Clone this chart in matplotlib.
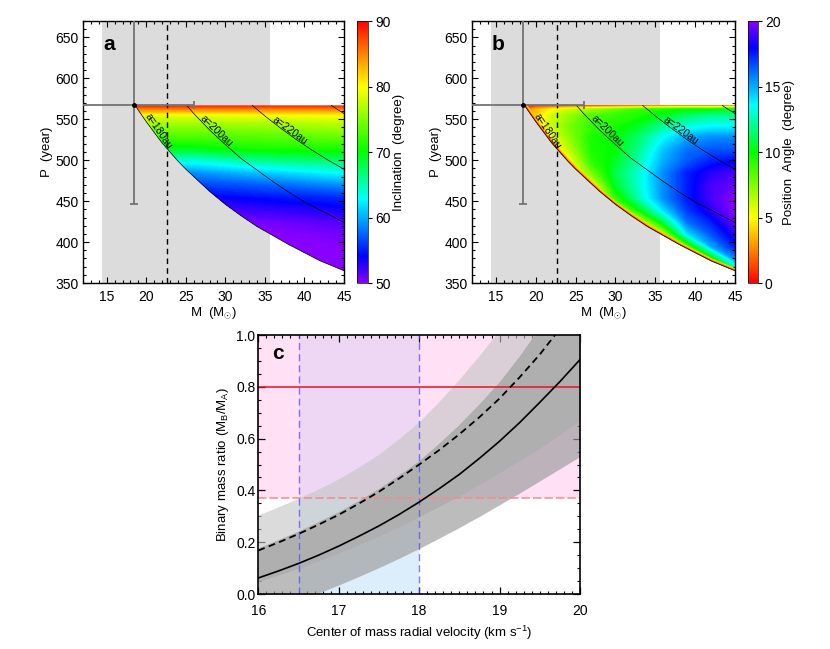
import numpy as np
import matplotlib
matplotlib.use("Agg")
import matplotlib.pyplot as plt
from matplotlib.colors import LinearSegmentedColormap, Normalize
from matplotlib.patches import Polygon
from matplotlib.ticker import MultipleLocator, FormatStrFormatter

plt.rcParams['font.family'] = ['Liberation Sans', 'DejaVu Sans']
plt.rcParams['mathtext.fontset'] = 'custom'
plt.rcParams['mathtext.rm'] = 'Liberation Sans'
plt.rcParams['mathtext.it'] = 'Liberation Sans:italic'

# ---------------- panels a / b : orbital solutions ----------------
p_top = 567  # upper edge of the allowed region (year)

# lower edge of the allowed region (a = 180 au curve)
edge_m = [18.6, 19, 20, 21, 22, 23, 24, 25, 26, 27, 28, 30, 32, 34, 36, 38, 40, 42, 45]
edge_p = [567, 561, 547, 534, 521, 510, 499, 489, 480, 471, 462, 446, 432, 419, 408, 397, 387, 377, 365]

# other semi-major axis curves
a200_m = [25.1, 26, 28, 30, 32, 34, 36, 38, 40, 42, 45]
a200_p = [567, 557, 537, 519, 502, 488, 474, 461, 449, 439, 424]
a220_m = [33.4, 35, 37, 39, 41, 43, 45]
a220_p = [567, 554, 539, 525, 512, 500, 489]
a240_m = [43.4, 44, 45]
a240_p = [567, 563, 557]

curve_labels = ['a=180au', 'a=200au', 'a=220au']
curve_label_m = [21.5, 28.9, 38.2]
curve_label_p = [536, 536, 536]
curve_label_rot = [-56, -44, -36]

# measured point with error bars
obs_m, obs_m_lo, obs_m_hi = 18.4, 7.4, 7.6
obs_p, obs_p_err = 567, 121
m_band = (14.4, 35.6)
m_dash = 22.6

# inclination map (degree): rows = P, columns = M
inc_m = [18, 26, 35, 45]
inc_p = [355, 380, 395, 410, 425, 440, 455, 470, 485, 500, 515, 530, 545, 555, 561, 568]
inc_val = [
    [50.0, 50.0, 50.0, 50.0],
    [50.0, 50.0, 50.0, 50.0],
    [50.0, 50.0, 50.0, 50.2],
    [50.0, 50.0, 50.0, 50.7],
    [50.7, 50.7, 50.7, 51.7],
    [51.7, 51.7, 52.5, 53.5],
    [53.5, 53.5, 54.5, 55.5],
    [56.2, 56.2, 57.2, 59.0],
    [59.0, 59.0, 61.0, 63.0],
    [63.7, 63.7, 66.0, 67.0],
    [69.5, 69.5, 71.0, 71.0],
    [73.2, 73.2, 73.5, 74.2],
    [76.2, 76.2, 76.5, 77.2],
    [79.0, 79.0, 79.5, 80.0],
    [84.0, 84.0, 84.0, 84.0],
    [90.0, 90.0, 90.0, 90.0],
]

# position angle map (degree): rows = P (top to bottom), columns = M
pa_m = [18.2, 20, 22, 24, 27, 30, 33, 36, 39, 42, 45]
pa_p_desc = [568, 562, 554, 542, 528, 513, 498, 484, 469, 454, 439, 425, 410, 395, 380, 355]
pa_val_desc = [
    [0, 0, 0, 0, 0, 0, 0, 0, 0, 0, 0],
    [1.5, 3.5, 5, 6, 7, 8, 9, 9.5, 10, 10, 10.5],
    [3, 4, 6, 7, 8.5, 9, 9.5, 10.5, 11.5, 12, 12],
    [4, 4, 6, 7.5, 9, 9.5, 10.5, 12, 13, 13.5, 13.5],
    [4, 4, 5, 7, 9.5, 10, 11.5, 13.5, 15, 15.5, 15.5],
    [4, 4, 4, 6, 9.5, 10, 12, 14.5, 16, 16.5, 16.5],
    [4, 4, 4, 4.5, 9, 10.5, 12.5, 15, 16.5, 17.5, 18],
    [4, 4, 4, 4, 7.5, 11, 13, 15.5, 17.5, 18.5, 19],
    [4, 4, 4, 4, 4.5, 10.5, 13, 15.5, 17.5, 19, 19.5],
    [4, 4, 4, 4, 4, 9, 12.5, 15.5, 17.5, 19, 20],
    [4, 4, 4, 4, 4, 5, 10, 14, 17, 18.5, 20],
    [4, 4, 4, 4, 4, 4, 5, 11, 16, 17.5, 19.5],
    [4, 4, 4, 4, 4, 4, 4, 6, 14, 16.5, 18.5],
    [4, 4, 4, 4, 4, 4, 4, 4, 8, 15, 17.5],
    [4, 4, 4, 4, 4, 4, 4, 4, 4, 9, 15.5],
    [4, 4, 4, 4, 4, 4, 4, 4, 4, 4, 8],
]

# ---------------- panel c : mass ratio vs velocity ----------------
vcm = [16, 16.25, 16.5, 16.75, 17, 17.25, 17.5, 17.75, 18,
       18.25, 18.5, 18.75, 19, 19.25, 19.5, 19.75, 20]
q_solid = [0.062, 0.089, 0.118, 0.150, 0.185, 0.223, 0.263, 0.307, 0.355,
           0.407, 0.462, 0.524, 0.590, 0.662, 0.740, 0.820, 0.905]
q_solid_lo = [-0.080, -0.054, -0.026, 0.004, 0.035, 0.068, 0.102, 0.138, 0.176,
              0.216, 0.257, 0.300, 0.345, 0.390, 0.437, 0.484, 0.531]
q_solid_hi = [0.178, 0.210, 0.243, 0.280, 0.318, 0.362, 0.408, 0.460, 0.515,
              0.583, 0.655, 0.735, 0.820, 0.920, 1.030, 1.145, 1.270]
q_dash = [0.168, 0.199, 0.232, 0.268, 0.306, 0.349, 0.395, 0.446, 0.500,
          0.556, 0.617, 0.683, 0.755, 0.837, 0.925, 1.024, 1.130]
q_dash_lo = [0.049, 0.074, 0.100, 0.129, 0.160, 0.192, 0.225, 0.262, 0.300,
             0.339, 0.380, 0.424, 0.470, 0.517, 0.565, 0.617, 0.672]
q_dash_hi = [0.305, 0.337, 0.370, 0.406, 0.445, 0.490, 0.540, 0.600, 0.665,
             0.745, 0.830, 0.922, 1.020, 1.128, 1.240, 1.358, 1.480]
q_limit = 0.80
q_min = 0.37
v_lo, v_hi = 16.5, 18.0

# IDL-like rainbow
rainbow = LinearSegmentedColormap.from_list('idl_rainbow', [
    (0.0, '#8800FF'), (0.1, '#0000FF'), (0.32, '#00FFFF'), (0.5, '#00FF00'),
    (0.75, '#FFFF00'), (0.88, '#FF8000'), (1.0, '#FF0000')])
rainbow_r = rainbow.reversed()

fig = plt.figure(figsize=(8.3, 6.49), dpi=100)
ax_a = fig.add_axes([0.100, 0.5639, 0.3145, 0.4037])
cax_a = fig.add_axes([0.4301, 0.5639, 0.0133, 0.4037])
ax_b = fig.add_axes([0.5687, 0.5639, 0.3169, 0.4037])
cax_b = fig.add_axes([0.9012, 0.5639, 0.0120, 0.4037])
ax_c = fig.add_axes([0.3112, 0.0847, 0.3876, 0.3991])


def region_patch(ax):
    xy = [(45, p_top)] + list(zip(edge_m[::-1], edge_p[::-1]))
    poly = Polygon(xy, closed=True, facecolor='none', edgecolor='none',
                   transform=ax.transData)
    ax.add_patch(poly)
    return poly


def orbit_panel(ax, cax, xs, ys, vals, cmap, vmin, vmax, ticks, clabel, letter, edge_glow):
    ax.axvspan(m_band[0], m_band[1], color='#DCDCDC', lw=0, zorder=0)
    clip = region_patch(ax)
    levels = np.linspace(vmin, vmax, 201)
    cs = ax.contourf(xs, ys, vals, levels=levels, cmap=cmap, extend='both', zorder=1)
    cs.set_clip_path(clip)
    if edge_glow:
        for lw, col in [(3.6, '#FFD000'), (2.0, '#FF8000'), (0.8, '#FF1000')]:
            ln, = ax.plot(edge_m, edge_p, color=col, lw=lw, zorder=2,
                          solid_capstyle='butt')
            ln.set_clip_path(clip)
    ax.plot(edge_m, edge_p, color='k', lw=0.5, zorder=3)
    for cm_, cp_ in [(a200_m, a200_p), (a220_m, a220_p), (a240_m, a240_p)]:
        ax.plot(cm_, cp_, color='k', lw=0.5, zorder=3)
    for t, m, p, r in zip(curve_labels, curve_label_m, curve_label_p, curve_label_rot):
        ax.text(m, p, t, rotation=r, fontsize=7.5, ha='center', va='center',
                rotation_mode='anchor', zorder=4)
    ax.axvline(m_dash, color='k', lw=1.0, ls=(0, (4, 3)), zorder=4)
    ax.errorbar([obs_m], [obs_p], xerr=[[obs_m_lo], [obs_m_hi]],
                yerr=[[obs_p_err], [obs_p_err]], fmt='o', ms=2.5, color='0.45',
                mfc='k', mec='k', elinewidth=1.3, capsize=3, capthick=1.3, zorder=5)
    ax.set_xlim(12, 45)
    ax.set_ylim(350, 670)
    ax.xaxis.set_major_locator(MultipleLocator(5))
    ax.xaxis.set_minor_locator(MultipleLocator(1))
    ax.yaxis.set_major_locator(MultipleLocator(50))
    ax.yaxis.set_minor_locator(MultipleLocator(10))
    ax.tick_params(which='both', direction='in', top=True, right=True, labelsize=10)
    ax.tick_params(which='major', length=4, width=0.8)
    ax.tick_params(which='minor', length=2, width=0.8)
    ax.tick_params(axis='x', pad=5)
    ax.tick_params(axis='y', pad=3)
    ax.set_xlabel(r'M  (M$_{\odot}$)', fontsize=9.5, labelpad=1)
    ax.set_ylabel('P  (year)', fontsize=9.5, labelpad=2)
    ax.text(0.10, 0.91, letter, transform=ax.transAxes, fontsize=15,
            fontweight='bold', ha='center', va='center')
    for s in ax.spines.values():
        s.set_linewidth(1.0)

    sm = plt.cm.ScalarMappable(norm=Normalize(vmin, vmax), cmap=cmap)
    cb = fig.colorbar(sm, cax=cax)
    cb.set_ticks(ticks)
    cb.ax.tick_params(direction='out', length=3, width=0.8, labelsize=10, pad=2)
    cb.outline.set_linewidth(0.5)
    cb.set_label(clabel, fontsize=9.5, labelpad=2)


orbit_panel(ax_a, cax_a, inc_m, inc_p, np.array(inc_val), rainbow, 50, 90,
            [50, 60, 70, 80, 90], 'Inclination  (degree)', 'a', False)
orbit_panel(ax_b, cax_b, pa_m, pa_p_desc[::-1], np.array(pa_val_desc)[::-1],
            rainbow_r, 0, 20, [0, 5, 10, 15, 20], 'Position  Angle  (degree)', 'b', True)

# ---------------- panel c ----------------
ax_c.axvspan(v_lo, v_hi, color='#DCEEFC', lw=0, zorder=0)
ax_c.axhspan(q_min, 1.0, color=(1.0, 0.76, 0.93), alpha=0.5, lw=0, zorder=1)
ax_c.fill_between(vcm, q_dash_lo, q_dash_hi, color='0.77', alpha=0.6, lw=0, zorder=2)
ax_c.fill_between(vcm, q_solid_lo, q_solid_hi, color='0.61', alpha=0.67, lw=0, zorder=2)
ax_c.fill_between(vcm, q_dash_lo, q_solid_hi, color='#AFAFAF', lw=0, zorder=3)
ax_c.axhline(q_limit, color='#E8102A', lw=1.1, zorder=4)
ax_c.axhline(q_min, color='#F28C8C', lw=1.1, ls=(0, (5.5, 2)), zorder=4)
for v in (v_lo, v_hi):
    ax_c.axvline(v, color='#5050F0', alpha=0.75, lw=1.0, ls=(0, (5, 3)), zorder=4)
ax_c.plot(vcm, q_solid, color='k', lw=1.2, zorder=5)
ax_c.plot(vcm, q_dash, color='k', lw=1.3, ls=(0, (3.8, 2.4)), zorder=5)

ax_c.set_xlim(16, 20)
ax_c.set_ylim(0, 1)
ax_c.xaxis.set_major_locator(MultipleLocator(1))
ax_c.xaxis.set_minor_locator(MultipleLocator(0.1))
ax_c.yaxis.set_major_locator(MultipleLocator(0.2))
ax_c.yaxis.set_minor_locator(MultipleLocator(0.05))
ax_c.yaxis.set_major_formatter(FormatStrFormatter('%.1f'))
ax_c.tick_params(which='both', direction='in', top=True, right=True, labelsize=10)
ax_c.tick_params(which='major', length=4.8, width=0.9)
ax_c.tick_params(which='minor', length=2.4, width=0.8)
ax_c.tick_params(axis='x', pad=7)
ax_c.tick_params(axis='y', pad=2)
ax_c.set_xlabel(r'Center of mass radial velocity (km s$^{-1}$)', fontsize=9.5, labelpad=4)
ax_c.set_ylabel(r'Binary mass ratio (M$_{\mathrm{B}}$/M$_{\mathrm{A}}$)', fontsize=9.5,
                labelpad=4)
ax_c.text(0.062, 0.93, 'c', transform=ax_c.transAxes, fontsize=15,
          fontweight='bold', ha='center', va='center', zorder=6)
for s in ax_c.spines.values():
    s.set_linewidth(1.2)
    s.set_zorder(7)

fig.savefig('out.png', dpi=100)
